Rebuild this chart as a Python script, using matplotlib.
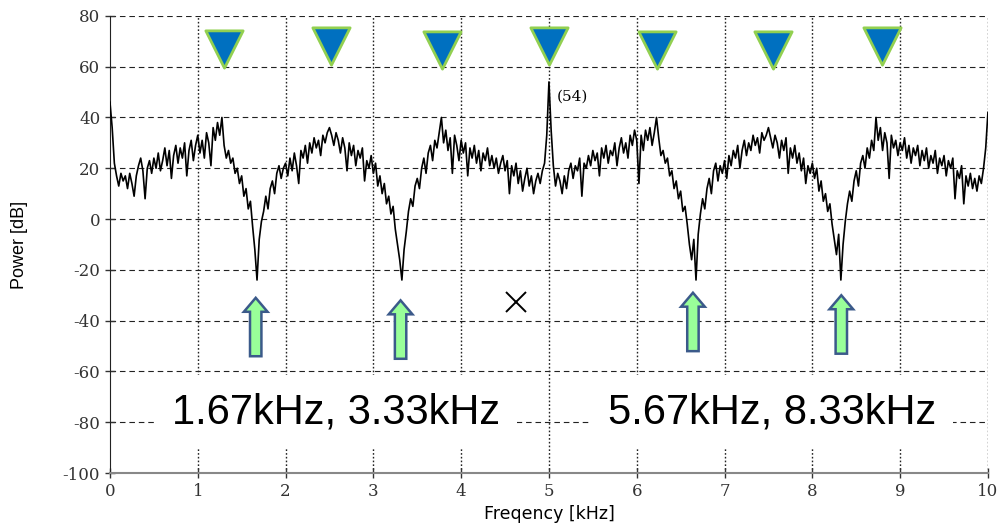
"""Power spectrum with notch frequencies marked (1.67/3.33/6.67/8.33 kHz)."""
import numpy as np
import matplotlib
matplotlib.use("Agg")
import matplotlib.pyplot as plt

plt.rcParams.update({"axes.unicode_minus": False})

# spectrum, 0.025 kHz steps
power_a = [46, 36, 22, 17, 13, 18, 15, 17, 12, 18, 14, 9, 17, 21, 24, 19, 8, 20, 23, 18,
           24, 20, 26, 19, 23, 28, 21, 27, 16, 25, 29, 22, 28, 24, 30, 17, 27, 31, 23, 29,
           33, 26, 31, 24, 34, 30, 21, 36, 31, 38, 33, 40, 29, 24, 27, 22, 24, 18, 20, 14,
           17, 9, 12, 4, 7, -3, -12, -24, -8, -1, 3, 9, 4, 12, 15, 10, 18, 21, 16, 20,
           22, 17, 24, 19, 26, 21, 14, 27, 24, 29, 22, 30, 26, 32, 28, 31, 25, 33, 30, 34]
power_b = [36, 33, 29, 34, 31, 26, 32, 28, 19, 30, 25, 29, 21, 27, 24, 28, 15, 23, 20, 25,
           18, 22, 13, 17, 10, 14, 6, 9, 2, 5, -4, -10, -16, -24, -12, -5, 3, 8, 5, 13,
           16, 12, 20, 24, 18, 26, 29, 23, 31, 28, 34, 40, 30, 35, 27, 32, 18, 33, 29, 23,
           31, 26, 30, 17, 28, 24, 29, 22, 27, 19, 26, 23, 28, 21, 25, 20, 24, 18, 22, 25,
           19, 23, 10, 21, 17, 22, 14, 19, 11, 16, 20, 13, 17, 10, 15, 18, 14, 19, 22, 33]
power_c = [54, 35, 21, 13, 18, 15, 10, 17, 12, 19, 22, 16, 21, 19, 24, 9, 22, 20, 25, 21,
           27, 23, 26, 17, 28, 24, 29, 22, 27, 25, 30, 21, 28, 32, 26, 30, 24, 33, 29, 35,
           31, 14, 33, 27, 35, 31, 36, 29, 34, 40, 32, 25, 27, 22, 24, 17, 19, 12, 15, 8,
           11, 3, 5, -2, -10, -16, -8, -24, -6, 2, 8, 4, 12, 16, 10, 19, 22, 15, 21, 18,
           23, 16, 25, 21, 27, 24, 29, 20, 27, 31, 25, 30, 27, 33, 29, 32, 26, 34, 31, 33]
power_d = [36, 32, 28, 33, 30, 24, 31, 27, 32, 18, 28, 24, 29, 22, 26, 19, 24, 14, 21, 18,
           22, 16, 20, 11, 15, 7, 10, 3, 6, -2, -8, -14, -6, -24, -10, -1, 6, 11, 7, 15,
           19, 13, 22, 25, 20, 28, 24, 31, 27, 40, 31, 36, 27, 34, 30, 16, 33, 28, 31, 25,
           30, 27, 32, 24, 29, 22, 28, 25, 29, 21, 27, 23, 28, 20, 25, 22, 27, 18, 24, 21,
           25, 17, 23, 20, 24, 8, 19, 16, 21, 6, 17, 13, 18, 12, 16, 11, 17, 14, 20, 28, 42]
power = np.array(power_a + power_b + power_c + power_d)
freq = np.linspace(0, 10, len(power))

# markers
tri_x = [1.30, 2.52, 3.78, 5.00, 6.23, 7.55, 8.79]
tri_y = [67, 68, 66.5, 68, 66.5, 66.5, 68]
arrow_x = [1.66, 3.31, 6.64, 8.33]
arrow_bottom = [-54, -55, -52, -53]
arrow_top = [-31, -32, -29, -30]
cross_xy = (4.62, -32.5)
peak_label = "(54)"
notes = ["1.67kHz, 3.33kHz", "5.67kHz, 8.33kHz"]
notes_x = [2.58, 7.54]
notes_y = -76

fig = plt.figure(figsize=(9.97, 5.28), dpi=100)
ax = fig.add_axes([0.1103, 0.104, 0.8806, 0.866])

ax.set_xlim(0, 10)
ax.set_ylim(-100, 80)
ax.set_xticks(range(0, 11))
ax.set_yticks(range(-100, 81, 20))
for y in range(-80, 81, 20):
    ax.axhline(y, color="#222222", lw=0.8, ls=(0, (5, 3.5)), zorder=0)
for x in range(1, 11):
    ax.axvline(x, color="#222222", lw=1.0, ls=(0, (1.2, 1.5)), zorder=0)

ax.plot(freq, power, color="black", lw=1.2, zorder=3)

ax.scatter(tri_x, tri_y, marker="v", s=720, color="#0070C0",
           edgecolor="#92D050", linewidth=2, zorder=5)
for x, y0, y1 in zip(arrow_x, arrow_bottom, arrow_top):
    ax.arrow(x, y0, 0, y1 - y0, width=0.13, head_width=0.27, head_length=5.5,
             length_includes_head=True, facecolor="#99FF99", edgecolor="#3B5A8A",
             linewidth=1.8, zorder=5)
ax.plot(*cross_xy, marker="x", ms=14, mew=1.4, color="black", zorder=5)
ax.text(5.09, 48, peak_label, family="DejaVu Serif", fontsize=11, va="center")

for t, x in zip(notes, notes_x):
    ax.text(x, notes_y, t, family="Liberation Sans", fontsize=30, ha="center",
            va="center", zorder=4,
            bbox=dict(facecolor="white", edgecolor="none", pad=12))

for s in ("top", "right"):
    ax.spines[s].set_visible(False)
ax.spines["left"].set_color("#222222")
ax.spines["bottom"].set_color("#888888")
ax.spines["bottom"].set_linewidth(1.5)
ax.tick_params(direction="inout", length=7, width=1, color="#333333")
for lab in ax.get_xticklabels() + ax.get_yticklabels():
    lab.set_family("DejaVu Serif")
    lab.set_fontsize(12)
    lab.set_color("#333333")

ax.set_ylabel("Power [dB]", family="Liberation Sans", fontsize=13)
ax.yaxis.set_label_coords(-0.093, 0.5)
ax.set_xlabel("Freqency [kHz]", family="DejaVu Sans", fontsize=12.5)
ax.xaxis.set_label_coords(0.5, -0.07)

fig.savefig("out.png", dpi=100)
